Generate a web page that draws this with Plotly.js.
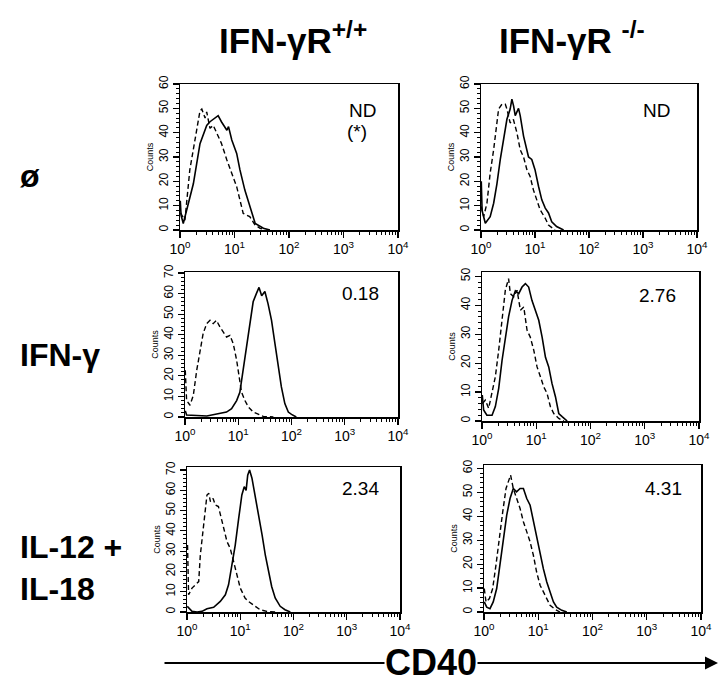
<!DOCTYPE html>
<html>
<head>
<meta charset="utf-8">
<script src="https://cdn.plot.ly/plotly-3.0.1.min.js"></script>
<style>html,body{margin:0;padding:0;background:#fff;}#chart{width:720px;height:684px;}</style>
</head>
<body>
<div id="chart"></div>
<script>
// ---- Data (x given as log10 of CD40 fluorescence, y = counts) ----
const colTitles = ['IFN-γR<sup>+/+</sup>', 'IFN-γR <sup>-/-</sup>'];
const rowLabels = ['ø', 'IFN-γ', 'IL-12 +<br>IL-18'];
const panelValues = ['ND', 'ND', '0.18', '2.76', '2.34', '4.31'];
const xTickText = ['10<sup>0</sup>', '10<sup>1</sup>', '10<sup>2</sup>', '10<sup>3</sup>', '10<sup>4</sup>'];
const axisLabel = 'CD40';
const yLabel = 'Counts';

// Panel 1: WT, medium
const p1SolidLog = [0.005, 0.02, 0.06, 0.245, 0.367, 0.49, 0.55, 0.64, 0.70, 0.76, 0.86, 0.89, 0.95, 1.04, 1.10, 1.19, 1.28, 1.38, 1.53, 1.65];
const p1Solid    = [12, 6, 2.7, 19, 35.5, 43, 44.5, 46, 47, 44.5, 41, 42.5, 37, 31.5, 24.7, 16.4, 9.6, 2.7, 0.7, 0];
const p1DashLog  = [0.01, 0.09, 0.18, 0.245, 0.306, 0.367, 0.40, 0.46, 0.49, 0.55, 0.61, 0.67, 0.76, 0.86, 0.95, 1.04, 1.10, 1.16, 1.28, 1.38, 1.47, 1.56];
const p1Dash     = [7, 4, 24.7, 33, 39.7, 49, 49.7, 46, 48.5, 41.8, 43, 40, 35.6, 28.8, 23.3, 17.8, 12.3, 6.8, 5.5, 2, 0.7, 0];

// Panel 2: KO, medium
const p2SolidLog = [0.005, 0.02, 0.08, 0.17, 0.234, 0.295, 0.357, 0.418, 0.48, 0.54, 0.572, 0.603, 0.634, 0.695, 0.726, 0.788, 0.85, 0.88, 0.94, 1.0, 1.065, 1.126, 1.19, 1.25, 1.31, 1.40, 1.53];
const p2Solid    = [20, 8, 2.8, 5.5, 11, 19, 29, 37, 45.5, 49.7, 53.8, 51, 47, 50, 47, 38.6, 33, 30, 29, 24.8, 18, 12.4, 9, 7, 3.4, 1.4, 0];
const p2DashLog  = [0.005, 0.05, 0.11, 0.17, 0.234, 0.295, 0.326, 0.388, 0.45, 0.48, 0.54, 0.6, 0.665, 0.726, 0.788, 0.85, 0.91, 0.97, 1.034, 1.095, 1.19, 1.25, 1.37];
const p2Dash     = [9.7, 5.5, 11, 23.4, 33, 42.8, 49.7, 51.7, 51.7, 49.7, 44, 45.4, 40, 33, 30, 24.8, 22, 16.5, 12.4, 8.3, 4.8, 2, 0];

// Panel 3: WT, IFN-gamma
const p3SolidLog = [0.005, 0.03, 0.41, 0.59, 0.78, 0.875, 0.97, 1.03, 1.09, 1.16, 1.22, 1.28, 1.34, 1.39, 1.44, 1.5, 1.56, 1.625, 1.69, 1.75, 1.81, 1.875, 1.94, 2.0, 2.09];
const p3Solid    = [3, 1, 0.5, 1.3, 2.4, 4, 8, 12, 22.7, 34, 47, 56, 60, 63, 59, 61, 55, 47, 35.6, 24.3, 14.6, 6.5, 2.4, 1.3, 0];
const p3DashLog  = [0.005, 0.03, 0.094, 0.156, 0.22, 0.28, 0.34, 0.406, 0.47, 0.53, 0.59, 0.656, 0.72, 0.78, 0.844, 0.906, 0.97, 1.02, 1.06, 1.125, 1.19, 1.28, 1.375, 1.47, 1.66];
const p3Dash     = [22.7, 8, 5.7, 10.5, 22.7, 32.4, 40.5, 45.4, 47, 45.4, 47, 43.8, 41.3, 38.9, 39.7, 35.7, 27.6, 19.4, 12.2, 8, 4.9, 2.4, 1.3, 0.3, 0];

// Panel 4: KO, IFN-gamma
const p4SolidLog = [0.005, 0.03, 0.09, 0.185, 0.246, 0.308, 0.37, 0.43, 0.49, 0.554, 0.615, 0.677, 0.738, 0.8, 0.86, 0.92, 0.985, 1.046, 1.108, 1.17, 1.23, 1.29, 1.354, 1.415, 1.477, 1.57];
const p4Solid    = [9, 3.8, 2, 2, 5, 11.3, 21, 29, 36, 41.7, 45, 44, 46.3, 47.5, 46.3, 41.7, 38.3, 34.8, 29, 22, 18.7, 13, 8.4, 2.6, 1.5, 0];
const p4DashLog  = [0.005, 0.06, 0.123, 0.185, 0.246, 0.308, 0.37, 0.43, 0.49, 0.523, 0.585, 0.646, 0.708, 0.77, 0.83, 0.89, 0.954, 1.015, 1.077, 1.138, 1.2, 1.26, 1.323, 1.415, 1.51];
const p4Dash     = [6, 7.2, 4.4, 9.5, 15.3, 24.5, 36, 45.2, 49.2, 44, 42.9, 45.2, 38.3, 39.4, 31.4, 29, 24.5, 18.7, 15.3, 11.8, 9.5, 5, 2.6, 0.9, 0];

// Panel 5: WT, IL-12 + IL-18
const p5SolidLog = [0.005, 0.094, 0.19, 0.28, 0.375, 0.5, 0.625, 0.72, 0.78, 0.84, 0.906, 0.97, 1.03, 1.075, 1.11, 1.14, 1.175, 1.22, 1.28, 1.34, 1.41, 1.47, 1.53, 1.59, 1.656, 1.75, 1.84, 1.94];
const p5Solid    = [2.8, 0.3, 0, 0.3, 1.6, 2.3, 5.2, 8.5, 13.4, 23.3, 33, 46, 57.7, 61.8, 60, 67.5, 70, 66, 57.7, 49.5, 38, 28.2, 20, 12.6, 6.9, 2.8, 1.1, 0];
const p5DashLog  = [0.01, 0.03, 0.094, 0.156, 0.22, 0.25, 0.31, 0.375, 0.41, 0.44, 0.49, 0.53, 0.59, 0.625, 0.69, 0.75, 0.81, 0.875, 0.94, 1.0, 1.09, 1.156, 1.28, 1.375, 1.5, 1.69];
const p5Dash     = [33, 8.5, 11.8, 13.4, 15, 28, 43, 57.7, 58.5, 54.4, 56, 52.8, 52, 48.7, 41.3, 34.8, 31.5, 24.9, 18.4, 11.8, 6.9, 5.2, 2.8, 1.1, 0.3, 0];

// Panel 6: KO, IL-12 + IL-18
const p6SolidLog = [0.005, 0.05, 0.11, 0.17, 0.234, 0.295, 0.357, 0.418, 0.48, 0.54, 0.6, 0.665, 0.726, 0.788, 0.85, 0.91, 0.97, 1.034, 1.095, 1.157, 1.218, 1.28, 1.34, 1.434, 1.526];
const p6Solid    = [4.2, 2, 1.4, 4.2, 9.8, 19.5, 30.7, 40.4, 47.4, 51.6, 50.2, 51.6, 51.6, 47.4, 44.6, 37.7, 32, 25, 18, 12.5, 8.4, 4.2, 2, 0.7, 0];
const p6DashLog  = [0.005, 0.037, 0.1, 0.16, 0.22, 0.283, 0.345, 0.406, 0.45, 0.49, 0.54, 0.6, 0.665, 0.726, 0.788, 0.85, 0.91, 0.97, 1.034, 1.095, 1.157, 1.218, 1.31, 1.4];
const p6Dash     = [9.8, 4.2, 5.6, 9.8, 19.5, 32, 41.8, 51.6, 54.4, 57.2, 51.6, 47.4, 43.2, 37.7, 33.5, 29.3, 23.7, 16.7, 11.2, 8.4, 5.6, 2.8, 1.1, 0];

const yMax = [60, 60, 70.5, 51.5, 71.5, 61.4];

// ---- Layout helpers (pixel boxes of each plot area) ----
const W = 720, H = 684;
const boxes = [
  [180, 398, 84, 230], [481, 697, 84, 230],
  [185, 398, 272, 417], [482, 699, 272, 421],
  [187, 400, 467, 612], [484, 701, 465, 612]
];
const px = x => x / W;
const py = y => 1 - y / H;
const FONT = 'Liberation Sans, Arial, Helvetica, sans-serif';

const series = [
  [p1SolidLog, p1Solid, p1DashLog, p1Dash],
  [p2SolidLog, p2Solid, p2DashLog, p2Dash],
  [p3SolidLog, p3Solid, p3DashLog, p3Dash],
  [p4SolidLog, p4Solid, p4DashLog, p4Dash],
  [p5SolidLog, p5Solid, p5DashLog, p5Dash],
  [p6SolidLog, p6Solid, p6DashLog, p6Dash]
];

const minorX = [];
for (let d = 0; d < 4; d++) for (let m = 2; m <= 9; m++) minorX.push(m * Math.pow(10, d));

const data = [];
const layout = {
  width: W, height: H,
  margin: {l: 0, r: 0, t: 0, b: 0},
  paper_bgcolor: '#fff', plot_bgcolor: '#fff',
  showlegend: false,
  font: {family: FONT, color: '#000'},
  annotations: [], shapes: []
};

series.forEach((s, i) => {
  const n = i + 1;
  const xa = n === 1 ? 'x' : 'x' + n;
  const ya = n === 1 ? 'y' : 'y' + n;
  data.push({x: s[2].map(v => Math.pow(10, v)), y: s[3], xaxis: xa, yaxis: ya, type: 'scatter', mode: 'lines',
    line: {color: '#000', width: 1.4, dash: '5px,3px'}, hoverinfo: 'skip'});
  data.push({x: s[0].map(v => Math.pow(10, v)), y: s[1], xaxis: xa, yaxis: ya, type: 'scatter', mode: 'lines',
    line: {color: '#000', width: 1.6}, hoverinfo: 'skip'});
  const b = boxes[i];
  layout['xaxis' + (n === 1 ? '' : n)] = {
    type: 'log', range: [0, 4], domain: [px(b[0]), px(b[1])], anchor: ya,
    tickmode: 'array', tickvals: [1, 10, 100, 1000, 10000], ticktext: xTickText,
    ticks: 'outside', ticklen: 6, tickwidth: 1.2, tickcolor: '#000',
    minor: {tickmode: 'array', tickvals: minorX, ticks: 'outside', ticklen: 3, tickwidth: 1, tickcolor: '#000'},
    showline: true, linecolor: '#000', linewidth: 1.5, mirror: true,
    showgrid: false, zeroline: false, fixedrange: true,
    tickfont: {family: FONT, size: 14, color: '#000'}
  };
  layout['yaxis' + (n === 1 ? '' : n)] = {
    range: [0, yMax[i]], domain: [py(b[3]), py(b[2])], anchor: xa,
    tick0: 0, dtick: 10, tickangle: -90,
    ticks: 'outside', ticklen: 6, tickwidth: 1.2, tickcolor: '#000',
    minor: {dtick: 2, ticks: 'outside', ticklen: 3, tickwidth: 1, tickcolor: '#000'},
    showline: true, linecolor: '#000', linewidth: 1.5, mirror: true,
    showgrid: false, zeroline: false, fixedrange: true,
    tickfont: {family: FONT, size: 12, color: '#000'},
    title: {text: yLabel, font: {family: FONT, size: 9, color: '#000'}, standoff: 1}
  };
});

const ann = layout.annotations;
// column titles
ann.push({text: '<b>' + colTitles[0] + '</b>', x: px(217), y: py(62), xref: 'paper', yref: 'paper', xanchor: 'left', yanchor: 'bottom', showarrow: false, font: {family: FONT, size: 35, color: '#000'}});
ann.push({text: '<b>' + colTitles[1] + '</b>', x: px(497), y: py(62), xref: 'paper', yref: 'paper', xanchor: 'left', yanchor: 'bottom', showarrow: false, font: {family: FONT, size: 35, color: '#000'}});
// row labels
ann.push({text: '<b>' + rowLabels[0] + '</b>', x: px(18), y: py(176), xref: 'paper', yref: 'paper', xanchor: 'left', yanchor: 'middle', showarrow: false, font: {family: FONT, size: 32, color: '#000'}});
ann.push({text: '<b>' + rowLabels[1] + '</b>', x: px(18), y: py(355), xref: 'paper', yref: 'paper', xanchor: 'left', yanchor: 'middle', showarrow: false, font: {family: FONT, size: 32, color: '#000'}});
ann.push({text: '<b>' + rowLabels[2] + '</b>', x: px(18), y: py(568), xref: 'paper', yref: 'paper', xanchor: 'left', yanchor: 'middle', align: 'left', showarrow: false, font: {family: FONT, size: 32, color: '#000'}});
// values in panels
const valPos = [[362, 110], [656, 110], [360, 293], [657, 295], [360, 488], [663, 488]];
panelValues.forEach((t, i) => {
  ann.push({text: t, x: px(valPos[i][0]), y: py(valPos[i][1]), xref: 'paper', yref: 'paper', xanchor: 'center', yanchor: 'middle', showarrow: false, font: {family: FONT, size: 19, color: '#000'}});
});
ann.push({text: '(*)', x: px(357), y: py(132), xref: 'paper', yref: 'paper', xanchor: 'center', yanchor: 'middle', showarrow: false, font: {family: FONT, size: 19, color: '#000'}});
// CD40 arrow
ann.push({text: '', x: px(718), y: py(663), ax: px(163), ay: py(663), xref: 'paper', yref: 'paper', axref: 'paper', ayref: 'paper', showarrow: true, arrowhead: 2, arrowsize: 1.3, arrowwidth: 2, arrowcolor: '#000'});
ann.push({text: '<b>' + axisLabel + '</b>', x: px(431), y: py(684), xref: 'paper', yref: 'paper', xanchor: 'center', yanchor: 'bottom', showarrow: false, bgcolor: '#fff', borderpad: 0, font: {family: FONT, size: 36, color: '#000'}});

Plotly.newPlot('chart', data, layout, {staticPlot: true, displayModeBar: false});
</script>
</body>
</html>
